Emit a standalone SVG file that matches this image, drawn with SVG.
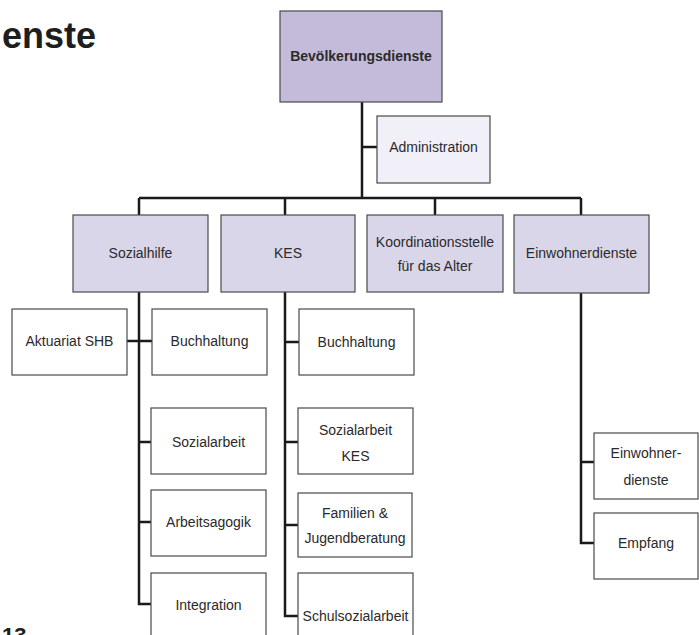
<svg xmlns="http://www.w3.org/2000/svg" width="699" height="635" viewBox="0 0 699 635">
<style>
text{font-family:"Liberation Sans",Arial,sans-serif;font-size:14px;fill:#2a2a2a;text-anchor:middle}
.b{stroke:#4a4a4a;stroke-width:1.2}
.top{fill:#c4bbdb}
.l2{fill:#dad6e9}
.adm{fill:#f1eff8}
.leaf{fill:#ffffff}
.c{stroke:#1a1a1a;stroke-width:2.5;fill:none}
.h{font-weight:bold;text-anchor:start;fill:#1e1e1e}
</style>
<rect width="699" height="635" fill="#ffffff"/>
<text class="h" x="2" y="48" style="font-size:36px">enste</text>
<text class="h" x="2" y="643" style="font-size:22px">13</text>
<g id="connectors">
<path class="c" d="M362 102V198M362 147H377M139 198H581M139 198V215M285 198V215M435 198V215M581 198V215"/>
<path class="c" d="M139 292V604H151M127 341H152M139 442H151M139 522H151"/>
<path class="c" d="M285 292V616H298M285 342H299M285 442H298M285 525H298"/>
<path class="c" d="M581 293V543H594M581 462H594"/>
</g>
<g id="n-bevoelkerungsdienste"><rect class="b top" x="280" y="11" width="162" height="91"/><text x="361" y="61" style="font-weight:bold">Bevölkerungsdienste</text></g>
<g id="n-administration"><rect class="b adm" x="377" y="116" width="113" height="67"/><text x="433.5" y="152">Administration</text></g>
<g id="n-sozialhilfe"><rect class="b l2" x="73" y="215" width="135" height="77"/><text x="140.5" y="258">Sozialhilfe</text></g>
<g id="n-kes"><rect class="b l2" x="221" y="215" width="134" height="77"/><text x="288" y="258">KES</text></g>
<g id="n-koordination"><rect class="b l2" x="367" y="215" width="136" height="77"/><text x="435" y="247">Koordinationsstelle</text><text x="435" y="271">für das Alter</text></g>
<g id="n-einwohnerdienste"><rect class="b l2" x="514" y="215" width="135" height="78"/><text x="581.5" y="258">Einwohnerdienste</text></g>
<g id="n-aktuariat"><rect class="b leaf" x="12" y="309" width="115" height="66"/><text x="69.5" y="346">Aktuariat SHB</text></g>
<g id="n-buchhaltung-sh"><rect class="b leaf" x="152" y="309" width="115" height="66"/><text x="209.5" y="346">Buchhaltung</text></g>
<g id="n-sozialarbeit"><rect class="b leaf" x="151" y="408" width="115" height="66"/><text x="208.5" y="447">Sozialarbeit</text></g>
<g id="n-arbeitsagogik"><rect class="b leaf" x="151" y="490" width="115" height="66"/><text x="208.5" y="527">Arbeitsagogik</text></g>
<g id="n-integration"><rect class="b leaf" x="151" y="573" width="115" height="70"/><text x="208.5" y="610">Integration</text></g>
<g id="n-buchhaltung-kes"><rect class="b leaf" x="299" y="309" width="115" height="66"/><text x="356.5" y="347">Buchhaltung</text></g>
<g id="n-sozialarbeit-kes"><rect class="b leaf" x="298" y="408" width="115" height="66"/><text x="355.5" y="435">Sozialarbeit</text><text x="355.5" y="461">KES</text></g>
<g id="n-familien"><rect class="b leaf" x="298" y="493" width="114" height="64"/><text x="355" y="518">Familien &amp;</text><text x="355" y="543">Jugendberatung</text></g>
<g id="n-schulsozialarbeit"><rect class="b leaf" x="298" y="573" width="115" height="70"/><text x="355.5" y="621">Schulsozialarbeit</text></g>
<g id="n-einwohner"><rect class="b leaf" x="594" y="433" width="104" height="66"/><text x="646" y="458">Einwohner-</text><text x="646" y="485">dienste</text></g>
<g id="n-empfang"><rect class="b leaf" x="594" y="513" width="104" height="66"/><text x="646" y="548">Empfang</text></g>
</svg>
